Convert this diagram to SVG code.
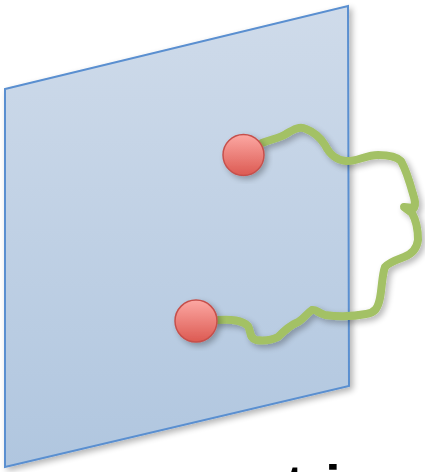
<svg xmlns="http://www.w3.org/2000/svg" width="425" height="472" viewBox="0 0 425 472">
  <defs>
    <linearGradient id="panelFill" x1="0" y1="0" x2="0" y2="1">
      <stop offset="0" stop-color="#cfdbea"/>
      <stop offset="1" stop-color="#b0c6df"/>
    </linearGradient>
    <linearGradient id="ballFill" x1="0" y1="0" x2="0" y2="1">
      <stop offset="0" stop-color="#fca8a3"/>
      <stop offset="1" stop-color="#dc5a52"/>
    </linearGradient>
    <filter id="shadow" x="-20%" y="-20%" width="140%" height="140%">
      <feGaussianBlur in="SourceAlpha" stdDeviation="3"/>
      <feOffset dx="3" dy="3" result="b"/>
      <feComponentTransfer><feFuncA type="linear" slope="0.3"/></feComponentTransfer>
      <feMerge><feMergeNode/><feMergeNode in="SourceGraphic"/></feMerge>
    </filter>
    <style>
      .panel { fill: url(#panelFill); stroke: #5a8fd0; stroke-width: 2; stroke-linejoin: miter; }
      .ball { fill: url(#ballFill); stroke: #c6504b; stroke-width: 1.5; }
      .string { fill: none; stroke: #a3c165; stroke-width: 8; stroke-linecap: round; stroke-linejoin: round; }
      .label { font-family: "Liberation Sans", Arial, sans-serif; font-weight: bold; font-size: 55px; fill: #000000; }
    </style>
  </defs>

  <g id="panel" filter="url(#shadow)">
    <polygon class="panel" points="5,89 348,6 349,386 5,467"/>
  </g>

  <g id="connectors" filter="url(#shadow)">
    <path class="string" d="M 262,143 C 272,139 280,138 286,134 C 294,129 300,126 306,129 C 314,132 320,137 325,145 C 330,155 336,160 346,161 C 356,162 366,155 378,155 C 388,155 396,156 401,161 C 406,170 410,183 413,194 C 415,200 416,204 414,208 L 404,207 L 412,213 C 416,220 418,230 418,240 C 417,248 412,254 404,257 C 396,260 389,262 385,267 C 382,275 382,288 380,298 C 378,308 375,313 366,314 C 356,316 340,317 325,315 C 318,313 316,309 312,310 C 306,314 302,321 296,323 C 289,326 284,331 278,337 C 270,341 263,341 256,340 C 249,338 251,331 248,326 C 242,320 232,319 217,320"/>
  </g>

  <g id="node-a" filter="url(#shadow)">
    <circle class="ball" cx="243.5" cy="155" r="20.5"/>
  </g>

  <g id="node-b" filter="url(#shadow)">
    <circle class="ball" cx="196" cy="321" r="21"/>
  </g>

  <g id="label">
    <text class="label" x="255" y="504">string</text>
  </g>
</svg>
